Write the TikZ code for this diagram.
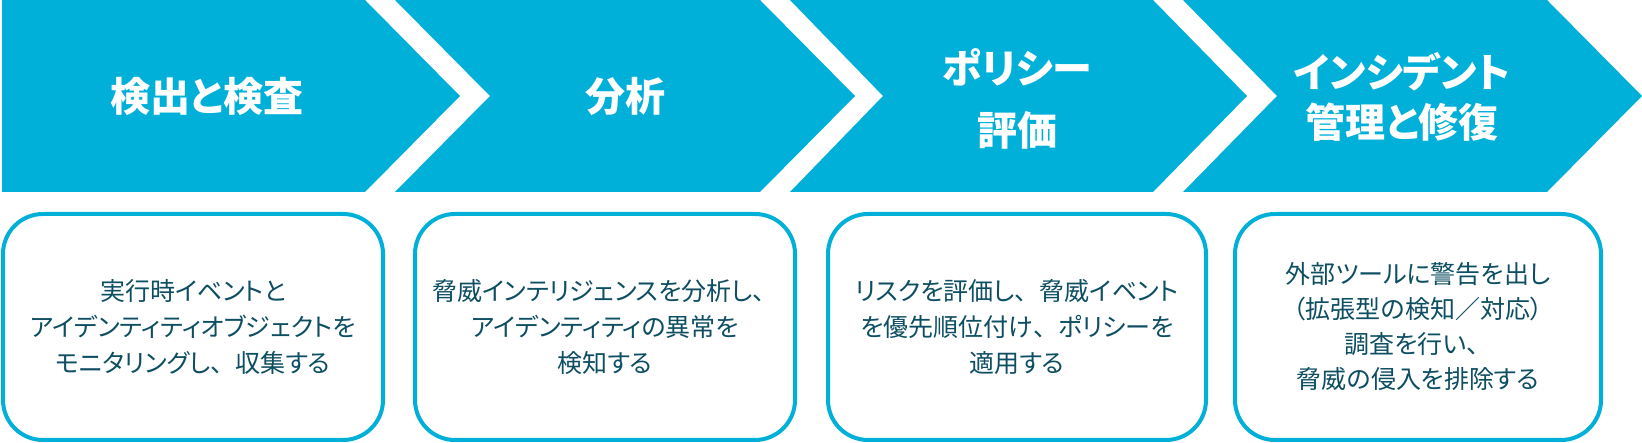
\documentclass[tikz,border=0pt]{standalone}
\usepackage{fontspec}
\setmainfont{Noto Sans CJK JP}[RawFeature=+palt]
\newfontfamily\fwfont{Noto Sans CJK JP}
\newcommand\jtou{{\fwfont 、}}
\definecolor{chevcol}{HTML}{00B0D8}
\definecolor{bodycol}{HTML}{0D4E62}
\begin{document}
\begin{tikzpicture}[x=1pt,y=-1pt,
  chevshape/.style={fill=chevcol},
  titlebox/.style={text=white, align=center, inner sep=0pt,
    font=\bfseries\fontsize{40pt}{50pt}\selectfont},
  descbox/.style={draw=chevcol, line width=4pt, rounded corners=40pt,
    fill=white, align=center, inner sep=0pt, text=bodycol,
    minimum height=226pt, font=\fontsize{25pt}{36pt}\selectfont},
]
\useasboundingbox (0,0) rectangle (1642,443);
% chevrons
\fill[chevshape] (2,0) -- (365,0) -- (460,96) -- (365,192) -- (2,192) -- cycle;
\fill[chevshape] (395,0) -- (760,0) -- (855,96) -- (760,192) -- (395,192) -- (490,96) -- cycle;
\fill[chevshape] (790,0) -- (1153,0) -- (1247,96) -- (1153,192) -- (790,192) -- (883,96) -- cycle;
\fill[chevshape] (1183,0) -- (1547,0) -- (1642,96) -- (1547,192) -- (1183,192) -- (1277,96) -- cycle;
% titles
\node[titlebox] (t1) at (207,96) {検出と検査};
\node[titlebox] (t2) at (625,96) {分析};
\node[titlebox, font=\bfseries\fontsize{40pt}{62pt}\selectfont] (t3) at (1017,99) {ポリシー\\評価};
\node[titlebox] (t4) at (1402,97) {インシデント\\管理と修復};
% boxes
\node[descbox, minimum width=380pt] (b1) at (193,327) {実行時イベントと\\アイデンティティオブジェクトを\\モニタリングし\jtou 収集する};
\node[descbox, minimum width=380pt] (b2) at (605,327) {脅威インテリジェンスを分析し\jtou\\アイデンティティの異常を\\検知する};
\node[descbox, minimum width=378pt] (b3) at (1017,327) {リスクを評価し\jtou 脅威イベント\\を優先順位付け\jtou ポリシーを\\適用する};
\node[descbox, minimum width=366pt, font=\fontsize{25pt}{35pt}\selectfont] (b4) at (1418,327) {外部ツールに警告を出し\\（拡張型の検知／対応）\\調査を行い\jtou\\脅威の侵入を排除する};
\end{tikzpicture}
\end{document}
